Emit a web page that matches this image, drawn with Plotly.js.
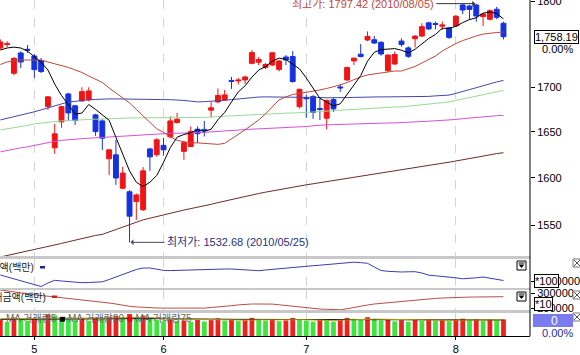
<!DOCTYPE html>
<html><head><meta charset="utf-8">
<script src="https://cdn.plot.ly/plotly-3.0.1.min.js"></script>
<style>html,body{margin:0;padding:0;background:#fff;}#chart{width:580px;height:355px;}</style>
</head><body><div id="chart"></div>
<script>
const dates = ['2010-04-26','2010-04-27','2010-04-28','2010-04-29','2010-04-30',
'2010-05-03','2010-05-04','2010-05-06','2010-05-07','2010-05-10','2010-05-11','2010-05-12','2010-05-13','2010-05-14','2010-05-17','2010-05-18','2010-05-19','2010-05-20','2010-05-24','2010-05-25','2010-05-26','2010-05-27','2010-05-28','2010-05-31',
'2010-06-01','2010-06-03','2010-06-04','2010-06-07','2010-06-08','2010-06-09','2010-06-10','2010-06-11','2010-06-14','2010-06-15','2010-06-16','2010-06-17','2010-06-18','2010-06-21','2010-06-22','2010-06-23','2010-06-24','2010-06-25','2010-06-28','2010-06-29','2010-06-30',
'2010-07-01','2010-07-02','2010-07-05','2010-07-06','2010-07-07','2010-07-08','2010-07-09','2010-07-12','2010-07-13','2010-07-14','2010-07-15','2010-07-16','2010-07-19','2010-07-20','2010-07-21','2010-07-22','2010-07-23','2010-07-26','2010-07-27','2010-07-28','2010-07-29','2010-07-30',
'2010-08-02','2010-08-03','2010-08-04','2010-08-05','2010-08-06','2010-08-09','2010-08-10','2010-08-11'];

const openP  = [1745.0,1749.0,1715.8,1739.2,1743.5,1735.7,1730.5,1678.3,1632.5,1661.0,1692.3,1678.9,1684.5,1685.6,1668.8,1662.1,1620.6,1624.9,1589.1,1585.3,1575.0,1566.4,1631.3,1625.0,1635.2,1644.5,1660.3,1628.7,1634.0,1652.9,1652.7,1674.1,1683.3,1685.6,1707.6,1707.0,1708.2,1727.2,1728.5,1722.4,1725.3,1720.3,1734.5,1735.1,1677.9,1688.2,1689.3,1676.0,1665.1,1685.9,1700.2,1708.2,1730.0,1737.8,1754.3,1754.6,1751.6,1718.8,1726.5,1753.1,1745.1,1755.8,1759.0,1774.5,1773.7,1770.6,1768.6,1770.8,1795.8,1794.6,1795.8,1782.0,1778.8,1790.7,1774.0];
const highP  = [1755.0,1753.0,1734.5,1741.0,1748.5,1738.0,1733.4,1690.0,1658.8,1679.0,1693.5,1680.0,1699.8,1699.8,1670.0,1664.0,1631.0,1641.2,1612.2,1587.0,1583.5,1611.6,1632.5,1643.0,1643.4,1667.2,1671.0,1639.0,1655.9,1655.9,1662.1,1683.3,1698.5,1696.8,1711.6,1710.4,1713.0,1742.6,1734.5,1727.6,1740.3,1731.0,1736.8,1741.4,1698.3,1691.2,1691.0,1687.5,1686.0,1688.0,1703.6,1723.5,1734.0,1749.6,1764.4,1759.0,1753.0,1737.5,1740.8,1756.2,1747.0,1760.0,1774.0,1776.0,1776.1,1776.1,1770.0,1784.0,1797.0,1796.0,1797.42,1786.0,1790.5,1793.6,1776.0];
const lowP   = [1743.0,1746.0,1713.5,1721.9,1739.2,1710.5,1716.0,1674.4,1626.0,1654.4,1662.0,1657.7,1683.3,1684.0,1645.6,1630.3,1603.3,1592.7,1588.0,1532.68,1556.0,1565.0,1607.6,1623.0,1624.0,1643.0,1659.0,1619.5,1633.0,1637.9,1645.0,1665.7,1682.0,1684.5,1698.0,1703.0,1703.7,1726.0,1725.3,1720.7,1724.0,1718.0,1725.3,1705.0,1676.0,1665.5,1664.4,1663.0,1652.7,1672.0,1694.6,1707.0,1725.3,1734.0,1753.0,1749.6,1736.0,1717.7,1725.5,1746.5,1733.4,1745.6,1757.8,1766.0,1767.0,1766.0,1755.5,1769.6,1785.0,1778.0,1776.0,1770.8,1777.5,1779.0,1755.0];
const closeP = [1752.0,1750.0,1733.0,1728.8,1742.5,1720.0,1717.8,1689.0,1647.8,1678.0,1671.0,1662.5,1694.9,1695.7,1650.3,1643.0,1630.3,1600.0,1605.2,1559.7,1582.0,1607.6,1622.7,1641.2,1630.3,1662.1,1664.0,1638.1,1650.3,1648.0,1651.6,1676.7,1690.6,1691.2,1706.4,1708.0,1711.6,1739.7,1731.7,1725.9,1739.4,1729.9,1731.1,1706.4,1697.5,1686.9,1671.6,1674.8,1685.0,1675.5,1699.2,1722.3,1733.2,1735.1,1758.6,1750.8,1738.0,1736.8,1737.4,1749.1,1735.3,1758.9,1770.0,1767.4,1772.6,1772.0,1757.4,1782.4,1789.8,1790.5,1782.6,1785.0,1789.0,1781.1,1758.19];

const ma5   = [1742.6,1745.0,1746.0,1745.0,1741.3,1734.9,1728.4,1719.6,1703.4,1690.5,1680.7,1669.7,1670.8,1680.4,1674.9,1669.3,1662.8,1643.9,1625.8,1607.6,1595.4,1590.9,1595.4,1602.6,1616.8,1632.8,1644.1,1647.1,1649.0,1652.5,1650.4,1652.9,1663.4,1671.6,1683.3,1694.6,1701.6,1711.4,1719.5,1723.4,1729.7,1733.3,1731.6,1726.5,1720.9,1710.4,1698.7,1687.4,1683.2,1678.8,1681.2,1691.4,1703.0,1713.1,1729.7,1740.0,1743.1,1743.9,1744.3,1742.4,1739.3,1743.5,1750.1,1756.1,1760.8,1768.2,1767.9,1770.4,1774.8,1778.4,1780.5,1786.1,1787.4,1785.6,1779.2];
const ma20  = [1725.9,1728.8,1730.5,1731.1,1731.1,1731.1,1731.1,1728.8,1726.7,1725.3,1722.5,1719.6,1716.7,1712.7,1709.3,1705.3,1699.1,1693.1,1687.3,1682.2,1674.9,1667.7,1659.9,1653.3,1649.5,1644.5,1640.7,1639.0,1637.9,1637.9,1637.4,1636.9,1636.3,1637.4,1642.3,1646.7,1652.2,1657.7,1663.2,1669.9,1677.7,1685.6,1689.0,1691.7,1692.9,1694.0,1695.1,1696.8,1698.5,1700.2,1702.5,1705.3,1708.8,1711.6,1713.9,1715.0,1716.1,1717.3,1718.4,1718.4,1720.7,1723.6,1727.6,1731.7,1735.7,1741.5,1746.1,1750.2,1753.7,1756.6,1759.0,1761.3,1762.5,1763.1,1763.7];
const ma60  = [1663.2,1664.9,1666.6,1668.2,1669.9,1672.2,1674.4,1676.6,1678.9,1680.5,1683.3,1683.9,1685.0,1685.8,1686.1,1686.7,1686.7,1686.7,1686.7,1686.7,1686.7,1686.4,1686.2,1686.0,1685.9,1685.8,1685.6,1685.0,1684.1,1683.3,1683.6,1683.9,1684.5,1685.2,1685.9,1686.7,1687.4,1688.4,1688.8,1689.0,1689.0,1689.0,1689.0,1689.0,1688.9,1688.7,1688.4,1688.2,1688.0,1687.8,1688.0,1688.2,1688.4,1688.7,1689.0,1689.0,1689.0,1689.0,1689.0,1689.0,1689.2,1689.3,1689.4,1689.5,1690.1,1690.6,1691.0,1692.9,1695.1,1697.1,1699.6,1702.1,1704.2,1705.9,1707.6];
const ma120 = [1652.2,1653.3,1654.4,1655.5,1657.1,1658.8,1659.9,1660.6,1661.4,1662.1,1662.7,1663.0,1663.3,1663.7,1664.0,1664.4,1664.6,1664.9,1665.1,1665.4,1665.5,1665.5,1665.5,1665.5,1665.5,1665.5,1665.5,1665.5,1665.5,1665.5,1666.0,1666.6,1667.0,1667.7,1668.0,1668.5,1669.0,1669.5,1669.8,1670.0,1670.3,1670.5,1670.7,1670.9,1671.0,1671.5,1672.0,1672.6,1673.1,1673.6,1674.1,1674.7,1675.3,1675.7,1676.3,1676.7,1677.0,1677.4,1677.6,1677.7,1678.5,1679.3,1680.0,1680.9,1681.6,1682.4,1683.3,1685.0,1686.7,1688.0,1689.7,1691.4,1693.1,1694.8,1696.3];
const ma150 = [1628.1,1629.7,1631.4,1632.5,1633.6,1635.2,1636.3,1637.9,1639.6,1640.7,1641.5,1642.1,1642.5,1643.0,1643.5,1644.0,1644.6,1644.9,1645.1,1645.5,1645.8,1646.7,1647.3,1648.0,1648.3,1648.4,1648.5,1648.6,1648.7,1648.9,1649.4,1650.0,1650.6,1651.2,1651.6,1652.1,1652.5,1653.0,1653.3,1653.6,1654.1,1654.4,1654.8,1655.2,1655.5,1655.9,1656.7,1657.5,1657.8,1658.0,1658.3,1658.5,1658.7,1658.9,1659.1,1659.3,1659.6,1659.8,1659.9,1660.1,1660.5,1661.0,1661.4,1661.8,1662.2,1662.5,1663.0,1663.7,1664.6,1665.4,1666.2,1666.9,1667.4,1667.9,1668.2];
const ma240 = [1517.8,1519.3,1520.8,1522.4,1523.4,1525.4,1526.7,1528.3,1530.0,1531.6,1533.3,1535.0,1536.8,1538.7,1539.8,1540.9,1543.4,1545.9,1548.6,1550.8,1553.2,1555.9,1557.6,1559.4,1560.9,1562.5,1564.4,1566.1,1567.6,1568.9,1570.7,1572.1,1573.9,1575.6,1576.8,1578.4,1580.1,1581.8,1583.5,1584.9,1586.3,1587.6,1588.9,1590.3,1591.4,1592.7,1593.8,1595.0,1596.2,1597.2,1598.4,1599.4,1600.6,1601.8,1603.0,1604.1,1605.3,1606.5,1607.6,1608.7,1609.8,1611.0,1612.3,1613.5,1614.6,1615.8,1616.9,1618.3,1619.6,1621.0,1622.4,1623.8,1625.0,1626.2,1627.2];

const capVals = [1012000,1008000,1004000,1000000,996000,992000,989000,996000,1001400,1000000,998400,997400,996600,997000,997600,998400,1003000,1008000,1013000,1018000,1023000,1026000,1026000,1023600,1021200,1020800,1021200,1021800,1022600,1023600,1024000,1024000,1024000,1024000,1024000,1023400,1022400,1021400,1020600,1022000,1023400,1025000,1026400,1027400,1028400,1029400,1030600,1031600,1032800,1034000,1035400,1037000,1037600,1036800,1035400,1028000,1021000,1019400,1018400,1018000,1018400,1018600,1016000,1011600,1010400,1009400,1008200,1006400,1004400,1004800,1006400,1008000,1005400,1002800,1001000];
const tradeVals = [320000,313300,306700,298700,292000,286700,282700,278700,274000,267300,263300,258000,253300,248700,243300,238000,233300,226700,218000,211300,207300,204000,202000,200000,199300,198700,198000,197300,196700,196700,199300,203300,206700,208000,215300,220700,224700,226700,226700,226700,226000,221300,216000,211300,208000,202700,196700,193300,191300,188700,188000,195300,204700,212000,220000,226700,231300,235300,239300,242700,246700,250700,255300,260000,264000,266700,269300,271300,272000,272700,273300,274000,274700,275300,275300];
const volume = [452000,398000,521000,470000,436000,489000,455000,612000,584000,530000,468000,441000,497000,430000,512000,478000,540000,566000,498000,621000,543000,575000,489000,452000,418000,466000,421000,439000,402000,455000,410000,448000,495000,431000,462000,420000,445000,512000,470000,436000,458000,419000,441000,512000,478000,433000,406000,452000,441000,408000,462000,512000,486000,455000,532000,470000,438000,461000,414000,446000,401000,452000,428000,466000,430000,451000,418000,462000,489000,447000,468000,425000,463000,441000,470000];
const volMa5  = [488000,486000,490000,492000,489000,494000,496000,505000,512000,515000,510000,505000,502000,498000,500000,503000,508000,515000,518000,525000,528000,530000,522000,512000,500000,492000,486000,480000,472000,468000,462000,458000,460000,457000,455000,452000,450000,458000,460000,458000,456000,452000,450000,460000,462000,455000,448000,446000,444000,440000,446000,455000,462000,466000,474000,478000,474000,470000,462000,455000,448000,446000,442000,446000,448000,446000,444000,448000,452000,455000,458000,456000,458000,455000,456000];
const volMa20 = [470000,470000,471000,472000,472000,473000,474000,476000,478000,479000,480000,480000,481000,481000,482000,483000,484000,486000,488000,490000,491000,492000,492000,491000,490000,489000,487000,485000,483000,481000,479000,477000,476000,474000,472000,470000,469000,468000,467000,466000,465000,464000,463000,463000,462000,461000,460000,459000,458000,457000,457000,457000,458000,458000,459000,459000,459000,458000,458000,457000,456000,455000,455000,454000,454000,453000,453000,453000,453000,453000,453000,453000,453000,453000,453000];

const monthTicks  = ['2010-05-03','2010-06-01','2010-07-01','2010-08-02'];
const monthLabels = ['5','6','7','8'];
const priceTicks  = [1550,1600,1650,1700,1800];
const lowDate = '2010-05-25', lowVal = 1532.68;
const highDate = '2010-08-05', highVal = 1797.42;

// layout helpers (pixel -> paper), plot area 530 x 336
const PW = 530, PH = 336;
const px = v => v / PW;
const py = v => (PH - v) / PH;

const FONT = 'Liberation Sans, Arial, "Noto Sans CJK KR", sans-serif';
const RED = '#f01414', BLUE = '#1432e0';

const volColors = volume.map((v, i) => (i === 0 || v > volume[i - 1]) ? '#f02020' : '#3ce63c');

const line = (y, color, axis, w) => ({type:'scatter', mode:'lines', x:dates, y:y, xaxis:'x', yaxis:axis,
  line:{color:color, width:w || 1}, hoverinfo:'skip'});

const traces = [
  line(ma240, '#6e2a2a', 'y'),
  line(ma150, '#d94fd9', 'y'),
  line(ma120, '#96dc96', 'y'),
  line(ma60,  '#4646aa', 'y'),
  line(ma20,  '#c0463c', 'y'),
  line(ma5,   '#000000', 'y'),
  {type:'candlestick', x:dates, open:openP, high:highP, low:lowP, close:closeP, xaxis:'x', yaxis:'y',
   increasing:{line:{color:RED, width:1}, fillcolor:RED},
   decreasing:{line:{color:BLUE, width:1}, fillcolor:BLUE},
   whiskerwidth:0, hoverinfo:'skip'},
  line(capVals, '#3c3cb4', 'y2'),
  line(tradeVals, '#c04a4a', 'y3'),
  {type:'bar', x:dates, y:volume, xaxis:'x', yaxis:'y4', marker:{color:volColors, line:{width:0}}, hoverinfo:'skip'},
  line(volMa20, '#000000', 'y4'),
  line(volMa5, '#b4a014', 'y4')
];

const P = (o) => Object.assign({xref:'paper', yref:'paper'}, o);
const shapes = [];
// panel separators
[[256,259],[288,290],[310,313]].forEach(s => shapes.push(P({type:'rect',
  x0:0, x1:1, y0:py(s[1]), y1:py(s[0]), fillcolor:'#c8c8c8', line:{width:0}, layer:'above'})));
// right axis line
shapes.push(P({type:'line', x0:1, x1:1, y0:0, y1:1, line:{color:'#000', width:1}}));
// current price marker
shapes.push({type:'line', xref:'x', yref:'y', x0:dates.length - 1.6, x1:dates.length - 0.1,
  y0:Math.log10(closeP[closeP.length - 1]), y1:Math.log10(closeP[closeP.length - 1]), line:{color:'#e02020', width:1}});
// legend markers of sub panels
shapes.push(P({type:'rect', x0:px(40), x1:px(45), y0:py(268.5), y1:py(266), fillcolor:'#2020a0', line:{width:0}}));
shapes.push(P({type:'rect', x0:px(52), x1:px(57), y0:py(298), y1:py(295.5), fillcolor:'#d02020', line:{width:0}}));
// dropdown icons
[[261,270],[292,301]].forEach(s => {
  shapes.push(P({type:'rect', x0:px(517), x1:px(526), y0:py(s[1]), y1:py(s[0]), fillcolor:'#fff', line:{color:'#000', width:1}}));
  shapes.push(P({type:'path', fillcolor:'#000', line:{width:0},
    path:`M ${px(518.5)},${py(s[0]+3.5)} L ${px(524.5)},${py(s[0]+3.5)} L ${px(521.5)},${py(s[0]+7)} Z`}));
  shapes.push(P({type:'line', x0:px(518.5), x1:px(524.5), y0:py(s[0]+2), y1:py(s[0]+2), line:{color:'#000', width:1}}));
});
// close icons
[259, 291, 313].forEach(t => {
  shapes.push(P({type:'rect', x0:px(573), x1:px(581), y0:py(t+8), y1:py(t), fillcolor:'#fff', line:{color:'#777', width:1}}));
  shapes.push(P({type:'line', x0:px(574), x1:px(580), y0:py(t+7), y1:py(t+1), line:{color:'#555', width:1}}));
  shapes.push(P({type:'line', x0:px(574), x1:px(580), y0:py(t+1), y1:py(t+7), line:{color:'#555', width:1}}));
});
// blue value box of volume panel
shapes.push(P({type:'rect', x0:px(533), x1:px(573), y0:py(327), y1:py(314), fillcolor:'#7b7bf0', line:{width:0}}));

const T = (o) => Object.assign({xref:'paper', yref:'paper', xanchor:'center', yanchor:'middle', showarrow:false}, o);
const annotations = [
  {xref:'x', yref:'y', x:lowDate, y:Math.log10(lowVal), text:'최저가: ' + lowVal.toFixed(2) + ' (2010/05/25)',
   showarrow:true, ax:35, ay:0, xanchor:'left', yanchor:'middle', arrowhead:1, arrowsize:1, arrowwidth:1, arrowcolor:'#4a4a6a', standoff:1,
   font:{family:FONT, size:11, color:'#25307e'}},
  {xref:'x', yref:'y', x:highDate, y:Math.log10(highVal), text:'최고가: ' + highVal.toFixed(2) + ' (2010/08/05)',
   showarrow:true, ax:-40, ay:0, xanchor:'right', yanchor:'middle', arrowhead:1, arrowsize:1, arrowwidth:1, arrowcolor:'#333', standoff:1,
   font:{family:FONT, size:11, color:'#c0463c'}},
  T({yref:'y', x:px(556), y:Math.log10(closeP[closeP.length - 1]),
   text:closeP[closeP.length - 1].toLocaleString('en-US', {minimumFractionDigits:2}),
   bgcolor:'#fff', bordercolor:'#000', borderwidth:1, borderpad:0, font:{family:FONT, size:11, color:'#000'}}),
  T({x:px(557), y:py(49), text:'0.00%', font:{family:FONT, size:11, color:'#000'}}),
  T({x:px(36), y:py(267), xanchor:'right', text:'시가총액(백만)', font:{family:FONT, size:10, color:'#222'}}),
  T({x:px(48), y:py(297), xanchor:'right', text:'거래금액(백만)', font:{family:FONT, size:10, color:'#222'}}),
  T({x:px(4), y:py(318), xanchor:'left',
   text:'MA 거래량5 <span style="color:#000">■</span> MA 거래량20 <span style="color:#e00">■</span> MA 거래량75',
   font:{family:FONT, size:10, color:'#666'}}),
  T({x:px(546), y:py(281), text:'*100', bgcolor:'#fff', bordercolor:'#000', borderwidth:1, borderpad:0,
   font:{family:FONT, size:11, color:'#000'}}),
  T({x:px(543.5), y:py(303.5), text:'*10', bgcolor:'#fff', bordercolor:'#000', borderwidth:1, borderpad:0,
   font:{family:FONT, size:11, color:'#000'}}),
  T({x:px(554), y:py(320.5), text:'0', font:{family:FONT, size:12, color:'#fff'}}),
  T({x:px(557), y:py(333), text:'0.00%', font:{family:FONT, size:11, color:'#2a2aa0'}})
];

const yCommon = {side:'right', showgrid:false, zeroline:false, showline:false, ticks:'outside', ticklen:4, tickcolor:'#000',
  tickfont:{family:FONT, size:11, color:'#000'}, fixedrange:true, ticklabeloverflow:'allow'};

const layout = {
  width:580, height:355, margin:{l:0, r:50, t:0, b:19}, paper_bgcolor:'#fff', plot_bgcolor:'#fff', showlegend:false,
  font:{family:FONT, size:11, color:'#000'},
  boxgap:0.28, boxgroupgap:0, bargap:0.3,
  xaxis:{type:'category', range:[-0.05, 77.9], anchor:'y4', tickvals:monthTicks, ticktext:monthLabels,
    ticks:'outside', ticklen:3, tickcolor:'#000', showline:true, linecolor:'#000', linewidth:1,
    showgrid:true, gridcolor:'#d4d4d4', griddash:'dash', gridwidth:1, zeroline:false,
    rangeslider:{visible:false}, tickfont:{family:FONT, size:11, color:'#000'}, fixedrange:true},
  yaxis:Object.assign({}, yCommon, {domain:[py(256), 1], type:'log', range:[Math.log10(1518.8), Math.log10(1801.8)],
    tickvals:priceTicks, ticktext:priceTicks.map(String)}),
  yaxis2:Object.assign({}, yCommon, {domain:[py(288), py(259)], range:[986000, 1044000], tickvals:[1000000], ticktext:['1000000']}),
  yaxis3:Object.assign({}, yCommon, {domain:[py(310), py(290)], range:[186667, 320000], tickvals:[200000, 300000], ticktext:['200000','300000']}),
  yaxis4:Object.assign({}, yCommon, {domain:[0, py(313)], range:[0, 650000], showticklabels:false, ticks:''}),
  shapes:shapes, annotations:annotations
};

Plotly.newPlot('chart', traces, layout, {displayModeBar:false, staticPlot:true});
</script></body></html>
